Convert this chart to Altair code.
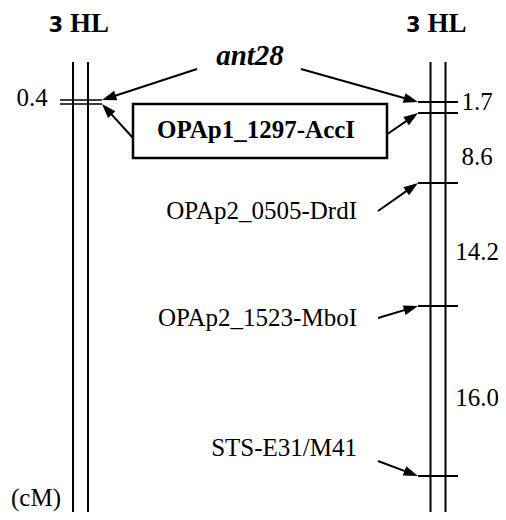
import math
import altair as alt
import pandas as pd

# ---------------- data (drawing units) ----------------
group_number = ["3", "3"]
group_arm = ["HL", "HL"]
group_center = [80.5, 438.0]
strand_offsets = [-7.5, 7.5]
map_top = 62
map_bottom = 512
title_baseline = 32

# left linkage group
left_markers = ["ant28", "OPAp1_1297-AccI"]
left_marker_pos = [100, 104]
left_intervals = ["0.4"]
left_interval_pos = [106]

# right linkage group
right_markers = ["ant28", "OPAp1_1297-AccI", "OPAp2_0505-DrdI",
                 "OPAp2_1523-MboI", "STS-E31/M41"]
right_marker_pos = [102, 113, 183, 306, 476]
right_intervals = ["1.7", "8.6", "14.2", "16.0"]
right_interval_pos = [110, 165, 260, 406]

# labels drawn beside the right map, with arrow tails
side_labels = ["OPAp2_0505-DrdI", "OPAp2_1523-MboI", "STS-E31/M41"]
side_label_baseline = [219, 326, 456]
side_arrow_tail = [(378, 211), (378, 318), (378, 461)]

# shared marker labels (between both maps)
ant_label = "ant28"
ant_label_pos = (250, 65)
ant_arrow_tail = [(197, 69), (301, 69)]
box_label = "OPAp1_1297-AccI"
box_bounds = (133, 387, 104, 158)
box_label_pos = (256, 138)
box_arrow_tail = [(133, 138), (386, 135)]

unit_label = "(cM)"
unit_pos = (36, 506)

# ---------------- derived tables ----------------
strands = []
for c in group_center:
    for o in strand_offsets:
        strands.append({"x": c + o, "y": map_top, "y2": map_bottom})
strands = pd.DataFrame(strands)

lc, rc = group_center
ticks_left = pd.DataFrame({"x": [lc - 20.5] * 2, "x2": [lc + 21.5] * 2,
                           "y": left_marker_pos})
ticks_right = pd.DataFrame({"x": [rc - 20] * 5, "x2": [rc + 20] * 5,
                            "y": right_marker_pos})

left_tip_x = lc + 21.5
right_tip_x = rc - 20

arrows = []
arrows.append((ant_arrow_tail[0], (left_tip_x, left_marker_pos[0])))
arrows.append((ant_arrow_tail[1], (right_tip_x, right_marker_pos[0])))
arrows.append((box_arrow_tail[0], (left_tip_x, left_marker_pos[1])))
arrows.append((box_arrow_tail[1], (right_tip_x, right_marker_pos[1])))
for name, tail in zip(side_labels, side_arrow_tail):
    idx = right_markers.index(name)
    arrows.append((tail, (right_tip_x, right_marker_pos[idx])))

line_rows, head_rows = [], []
for (x1, y1), (x2, y2) in arrows:
    dx, dy = x2 - x1, y2 - y1
    L = math.hypot(dx, dy)
    ux, uy = dx / L, dy / L
    line_rows.append({"x": x1, "y": y1, "x2": x2 - 9 * ux, "y2": y2 - 9 * uy})
    ang = (math.degrees(math.atan2(dx, -dy)) + 360) % 360
    head_rows.append({"x": x2, "y": y2, "angle": ang})
arrow_lines = pd.DataFrame(line_rows)
arrow_heads = pd.DataFrame(head_rows)

titles_num = pd.DataFrame({"x": [c - 17.5 for c in group_center],
                           "y": [title_baseline] * 2, "t": group_number})
titles_arm = pd.DataFrame({"x": [c - 10.5 for c in group_center],
                           "y": [title_baseline] * 2, "t": group_arm})

interval_text = pd.DataFrame({
    "x": [32] + [477] * len(right_intervals),
    "y": left_interval_pos + right_interval_pos,
    "t": left_intervals + right_intervals})

side_text = pd.DataFrame({"x": [357] * 3, "y": side_label_baseline,
                          "t": side_labels})
unit_text = pd.DataFrame({"x": [unit_pos[0]], "y": [unit_pos[1]], "t": [unit_label]})
ant_text = pd.DataFrame({"x": [ant_label_pos[0]], "y": [ant_label_pos[1]], "t": [ant_label]})
box_text = pd.DataFrame({"x": [box_label_pos[0]], "y": [box_label_pos[1]], "t": [box_label]})
box = pd.DataFrame({"x": [box_bounds[0]], "x2": [box_bounds[1]],
                    "y": [box_bounds[2]], "y2": [box_bounds[3]]})

# ---------------- chart ----------------
X = alt.X("x:Q", scale=alt.Scale(domain=[8, 498], nice=False, zero=False), axis=None)
Y = alt.Y("y:Q", scale=alt.Scale(domain=[8, 512], nice=False, zero=False, reverse=True), axis=None)

SERIF = "Liberation Serif"

strand_layer = alt.Chart(strands).mark_rule(color="black", strokeWidth=2).encode(
    x=X, y=Y, y2="y2:Q")
tick_l_layer = alt.Chart(ticks_left).mark_rule(color="black", strokeWidth=1.5).encode(
    x=X, x2="x2:Q", y=Y)
tick_r_layer = alt.Chart(ticks_right).mark_rule(color="black", strokeWidth=2).encode(
    x=X, x2="x2:Q", y=Y)
box_layer = alt.Chart(box).mark_rect(fill="white", stroke="black", strokeWidth=2.5).encode(
    x=X, x2="x2:Q", y=Y, y2="y2:Q")
arrow_line_layer = alt.Chart(arrow_lines).mark_rule(color="black", strokeWidth=2).encode(
    x=X, y=Y, x2="x2:Q", y2="y2:Q")
arrow_head_layer = alt.Chart(arrow_heads).mark_point(
    shape="M0,0L0.62,1.8L-0.62,1.8Z", filled=True, size=256, color="black",
    opacity=1, strokeWidth=0).encode(
    x=X, y=Y, angle=alt.Angle("angle:Q", scale=None))


def text_layer(df, **kw):
    base = dict(color="black", baseline="alphabetic")
    base.update(kw)
    return alt.Chart(df).mark_text(**base).encode(x=X, y=Y, text="t:N")


layers = [
    strand_layer, tick_l_layer, tick_r_layer, arrow_line_layer, box_layer,
    arrow_head_layer,
    text_layer(titles_num, font="DejaVu Sans", fontWeight="bold", fontSize=21, align="right"),
    text_layer(titles_arm, font=SERIF, fontWeight="bold", fontSize=27, align="left"),
    text_layer(interval_text, font=SERIF, fontSize=25, align="center"),
    text_layer(side_text, font=SERIF, fontSize=25, align="right"),
    text_layer(unit_text, font=SERIF, fontSize=25, align="center"),
    text_layer(ant_text, font=SERIF, fontSize=29, fontWeight="bold", fontStyle="italic", align="center"),
    text_layer(box_text, font=SERIF, fontSize=25, fontWeight="bold", align="center"),
]

chart = alt.layer(*layers).properties(
    width=490, height=504, padding=0, autosize=alt.AutoSizeParams(type="none"),
    background="white",
).configure_view(stroke=None)

chart.save("out.html", embed_options={"renderer": "svg", "actions": False})
